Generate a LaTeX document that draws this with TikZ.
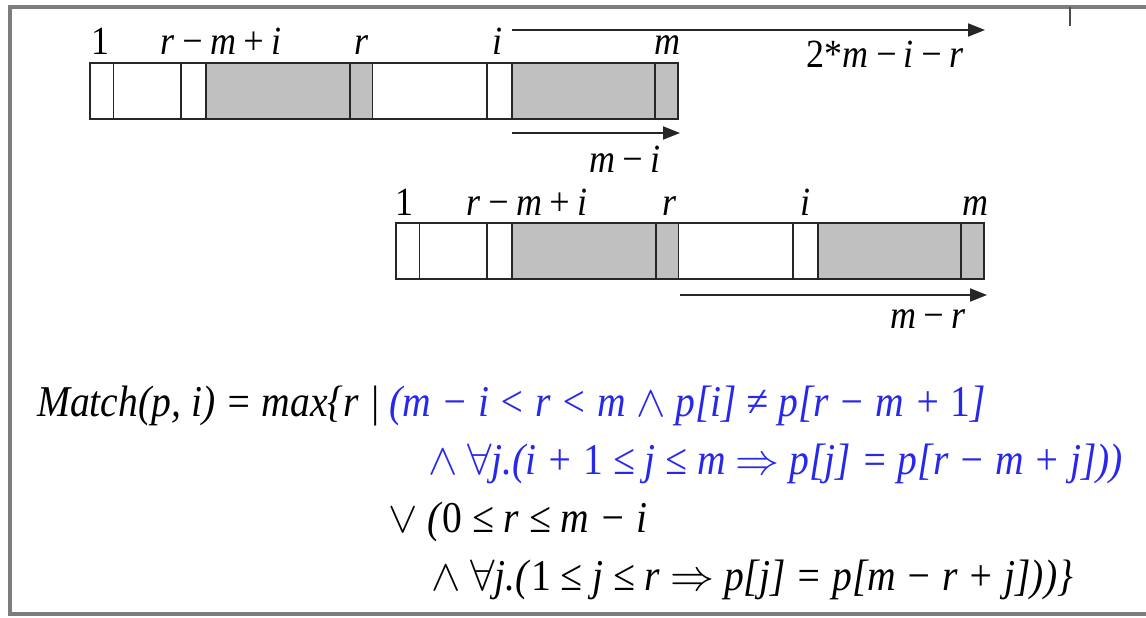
\RequirePackage{fix-cm}
\documentclass[tikz,border=0pt]{standalone}
\usepackage{fontspec}
\setmainfont{Liberation Serif}[FakeStretch=0.9]
\usetikzlibrary{arrows.meta}
\definecolor{cellgrey}{RGB}{192,192,192}
\definecolor{framegrey}{RGB}{125,125,125}
\definecolor{fblue}{RGB}{40,40,235}
\newcommand{\ts}{\hspace{0.14em}}
\begin{document}
\begin{tikzpicture}[x=1pt,y=-1pt,
  lab/.style={anchor=base,inner sep=0pt,font=\fontsize{40}{44}\selectfont\itshape},
  fline/.style={anchor=base west,inner sep=0pt,font=\fontsize{44}{48}\selectfont\itshape},
  cell/.style={draw=black!85,line width=1.8pt},
  arr/.style={draw=black!85,line width=2pt,-{Triangle[length=17pt,width=13pt]}}]
\useasboundingbox (0,0) rectangle (1146,618);
\clip (0,0) rectangle (1146,618);
\draw[framegrey,line width=3.5pt] (10,7) rectangle (1170,614);
\draw[black!70,line width=2pt] (1070,7) -- (1070,26);
% bars
\foreach \dx/\dy in {0/0,306/160}{
  \begin{scope}[shift={(\dx,\dy)}]
    \fill[cellgrey] (206,63) rectangle (372.5,119);
    \fill[cellgrey] (512,63) rectangle (678,119);
    \draw[cell] (90,63) rectangle (678,119);
    \foreach \x in {113.5,181,206,350,372.5,487,512,655}
      \draw[cell] (\x,63) -- (\x,119);
  \end{scope}
}
% labels top bar
\node[lab] (t1) at (100,55) {\textup{1}};
\node[lab] (trmi) at (221,55) {r\ts−\ts m\ts+\ts i};
\node[lab] (tr) at (362,55) {r};
\node[lab] (ti) at (497,55) {i};
\node[lab] (tm) at (667,55) {m};
% labels bottom bar
\node[lab] (b1) at (404,215) {\textup{1}};
\node[lab] (brmi) at (527,215) {r\ts−\ts m\ts+\ts i};
\node[lab] (br) at (669,215) {r};
\node[lab] (bi) at (805,215) {i};
\node[lab] (bm) at (975,215) {m};
% arrows
\coordinate (a1s) at (512,30); \coordinate (a1e) at (985,30);
\draw[arr] (a1s) -- (a1e);
\node[lab] (l1) at (885,67) {\textup{2*}m\ts−\ts i\ts−\ts r};
\coordinate (a2s) at (512,133); \coordinate (a2e) at (680,133);
\draw[arr] (a2s) -- (a2e);
\node[lab] (l2) at (625,172) {m\ts−\ts i};
\coordinate (a3s) at (680,295); \coordinate (a3e) at (987,295);
\draw[arr] (a3s) -- (a3e);
\node[lab] (l3) at (928,328) {m\ts−\ts r};
% formula
\node[fline] (f1) at (37,416) {Match(p, i) = max\{r | \color{fblue}(m − i < r < m $\wedge$ p[i] ≠ p[r − m + \textup{1}]};
\node[fline,text=fblue] (f2) at (428,474) {$\wedge$ $\forall$j.(i + \textup{1} ≤ j ≤ m $\Rightarrow$ p[j] = p[r − m + j]))};
\node[fline] (f3) at (388,532) {$\vee$ (\textup{0} ≤ r ≤ m − i};
\node[fline] (f4) at (431,590) {$\wedge$ $\forall$j.(\textup{1} ≤ j ≤ r $\Rightarrow$ p[j] = p[m − r + j]))\}};
\end{tikzpicture}
\end{document}
